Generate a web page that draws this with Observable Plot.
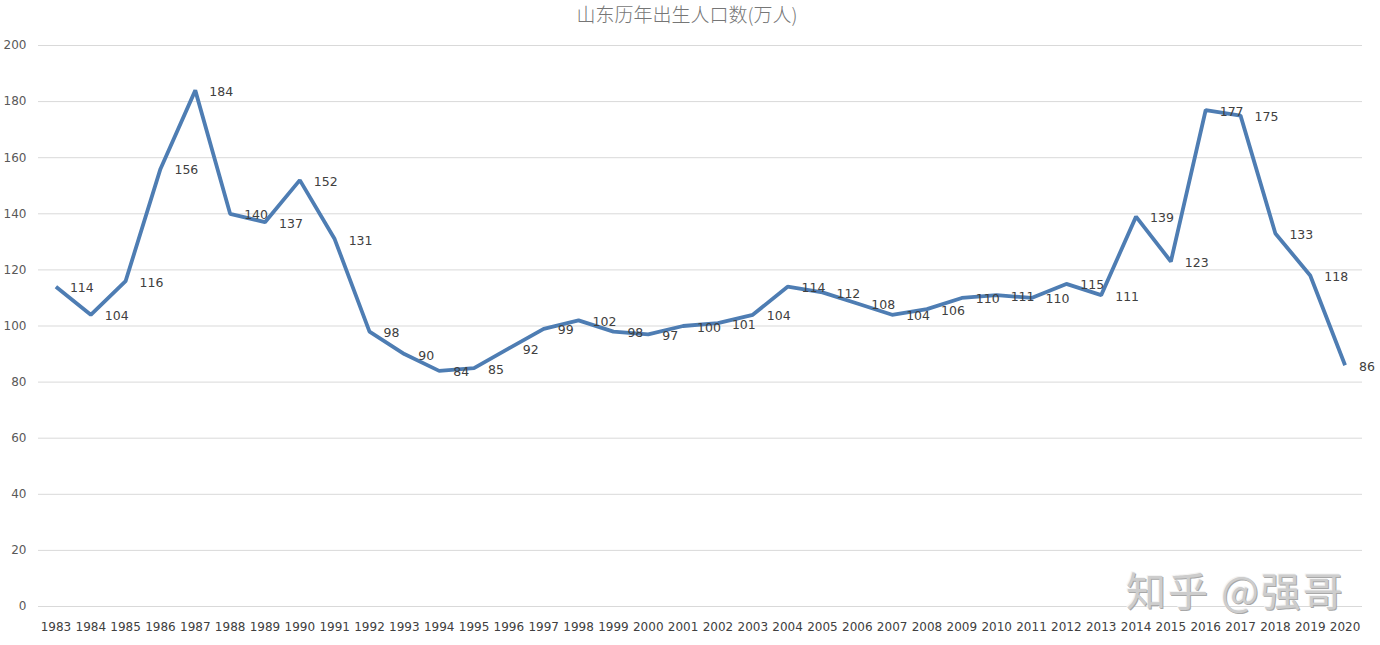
<!DOCTYPE html>
<html>
<head>
<meta charset="utf-8">
<script src="https://cdn.jsdelivr.net/npm/d3@7"></script>
<script src="https://cdn.jsdelivr.net/npm/@observablehq/plot@0.6"></script>
<style>
  html, body { margin: 0; padding: 0; background: #fff; }
  #wrap { position: relative; width: 1380px; height: 645px; overflow: hidden; }
  #chart { position: absolute; left: 0; top: 22px; }
  #title { position: absolute; left: 0; top: 0; width: 1374px; line-height: normal; text-align: center; font-family: "Noto Sans CJK SC", sans-serif; font-size: 19px; color: #767676; font-weight: 300; z-index: 2; }
  #wm { position: absolute; left: 1126px; top: 560px; font-family: "Noto Sans CJK SC", sans-serif; font-size: 40px; color: #cdcdcd; letter-spacing: 2px; text-shadow: 1px 1px 0 #a8a8a8, -1px -1px 0 #f4f4f4; white-space: pre; z-index: 2; }
</style>
</head>
<body>
<div id="wrap">
  <div id="chart"></div>
  <div id="title">山东历年出生人口数(万人)</div>
  <div id="wm">知乎 @强哥</div>
</div>
<script>
const years = ["1983","1984","1985","1986","1987","1988","1989","1990","1991","1992","1993","1994","1995","1996","1997","1998","1999","2000","2001","2002","2003","2004","2005","2006","2007","2008","2009","2010","2011","2012","2013","2014","2015","2016","2017","2018","2019","2020"];
const births = [114,104,116,156,184,140,137,152,131,98,90,84,85,92,99,102,98,97,100,101,104,114,112,108,104,106,110,111,110,115,111,139,123,177,175,133,118,86];
const yTicks = [0,20,40,60,80,100,120,140,160,180,200];

const data = years.map((y, i) => ({year: y, value: births[i]}));

const chart = Plot.plot({
  width: 1380,
  height: 623,
  marginTop: 23,
  marginBottom: 39,
  marginLeft: 38,
  marginRight: 18,
  style: { fontFamily: "DejaVu Sans, sans-serif", fontSize: "12px", color: "#404040", background: "transparent" },
  x: { type: "point", domain: years, padding: 0.5, label: null },
  y: { domain: [0, 200], label: null },
  marks: [
    Plot.ruleY(yTicks, { stroke: "#d9d9d9", strokeWidth: 1 }),
    Plot.axisY({ ticks: yTicks, tickSize: 0, tickPadding: 12, fill: "#595959", fontSize: 12, label: null }),
    Plot.axisX({ tickSize: 0, tickPadding: 16, fill: "#404040", fontSize: 12, label: null }),
    Plot.line(data, { x: "year", y: "value", stroke: "#4e7db3", strokeWidth: 3.8, strokeLinejoin: "miter", strokeLinecap: "butt" }),
    Plot.text(data, { x: "year", y: "value", text: d => String(d.value), textAnchor: "start", dx: 14, dy: 1.5, fill: "#404040", fontSize: 12.5 })
  ]
});
document.getElementById("chart").appendChild(chart);
</script>
</body>
</html>
